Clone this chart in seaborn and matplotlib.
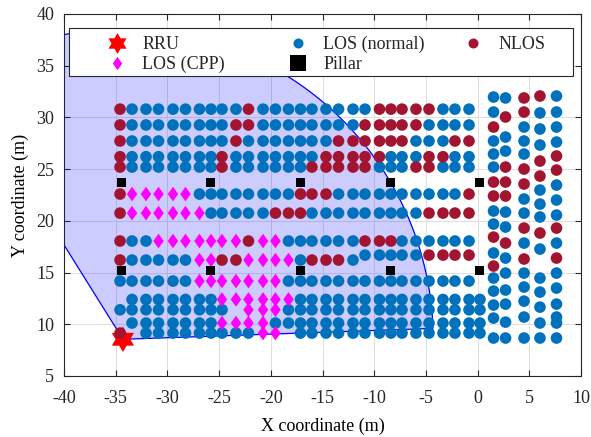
import numpy as np
import pandas as pd
import matplotlib
matplotlib.use("Agg")
import matplotlib.pyplot as plt
from matplotlib.legend import Legend
from matplotlib.lines import Line2D
from matplotlib.markers import MarkerStyle
from matplotlib.patches import Rectangle
from matplotlib.path import Path
import seaborn as sns

# ---------------------------------------------------------------------------
# Measurement data
# ---------------------------------------------------------------------------
# Main hall: x positions (m) of the measurement columns
grid_x = [-34.58, -33.42, -32.07, -30.86, -29.46, -28.25, -26.90, -25.78, -24.72,
          -23.37, -22.16, -20.75, -19.55, -18.29, -17.13, -16.02, -14.66, -13.45,
          -12.05, -10.89, -9.49, -8.38, -7.31, -5.96, -4.70, -3.35, -2.19, -0.83, 0.23]

# Row y positions (m) and link state per column
# L = LOS (normal), C = LOS (CPP), N = NLOS, . = no measurement
row_y = [30.80, 29.27, 27.72, 26.20, 25.20, 22.59, 20.75, 18.05, 16.21, 16.69,
         14.18, 12.40, 11.40, 10.12, 9.15]
row_state = [
    "NLLLLLLLLLNLLLLLLLLLNNNNNLLL.",
    "NLLLLLLLLNNLLLLLLLLNNNNNLLLL.",
    "NLLLLLLLLNLLLLLLLNNNNNNLLLNN.",
    "NLLLLLLLNLLLLLLLNNNNNLLLNNLL.",
    "NLLLLLLLNLLLLLLNNNNNLLLNNLLL.",
    "NCCCCCLLLLLLLLNNNLLLLLLLLLLN.",
    "NCCCCCCLLLLLNNNLLLLLLLLLNNNN.",
    "NLLCCCCCCCNCCLLLLLLNNNLLLLLL.",
    "NLLLLLCCNNCCCCLNNNL..........",
    "...................LLLLLNNNN.",
    "LLLLLLCCCCCCCLLLLLLLLLLLLLLL.",
    ".LLLLLLLCCCCCCLLLLLLLLLLLLLLL",
    "LLLLLLLLL.CCCLLLLLLLLLLLLLLLL",
    ".LLLLLLLCCCCLLLLLLLLLLLLLLLLL",
    "N.LLLLLLLLLCC.LLLLLLLLLLLLLLL",
]

# Corridor on the right: one measurement column per x position
corridor_x = [1.54, 2.70, 4.49, 6.03, 7.63]
corridor_y = [
    [31.97, 30.52, 29.07, 27.72, 26.46, 25.20, 23.75, 22.40, 20.95, 19.69, 18.43,
     16.89, 15.63, 14.47, 13.21, 11.86, 10.60, 8.67],
    [31.88, 30.04, 28.10, 26.75, 25.20, 23.75, 22.40, 20.85, 19.40, 17.85, 16.40,
     14.95, 13.31, 11.95, 10.21, 8.67],
    [31.88, 30.52, 29.07, 27.72, 26.46, 25.01, 23.56, 22.11, 20.75, 19.30, 17.85,
     16.31, 14.95, 13.60, 12.24, 10.70, 8.67],
    [32.07, 30.43, 28.88, 27.33, 25.78, 24.33, 22.98, 21.62, 20.37, 18.82, 17.27,
     14.47, 13.11, 11.66, 10.12, 8.67],
    [32.07, 30.52, 29.07, 27.62, 26.27, 24.91, 23.46, 22.01, 20.56, 19.30, 17.85,
     16.40, 14.95, 13.50, 11.95, 10.70, 10.12, 8.67],
]
corridor_state = [
    "LLNLLLNNLLNLNLLLLL",
    "LNLLNNNLLNLLLLLL",
    "NNLLLNNLLNLNLLLLL",
    "NLLLNNLLLNLLLLLL",
    "LLLLNNLLLNLNLLLLLL",
]

# Pillars and the radio remote unit
pillar_x = [-34.4, -25.8, -17.1, -8.4, 0.2, -34.4, -25.8, -17.1, -8.4, 0.2]
pillar_y = [23.7, 23.7, 23.7, 23.7, 23.7, 15.2, 15.2, 15.2, 15.2, 15.2]
rru_x = [-34.3]
rru_y = [8.55]

# LOS coverage sector of the RRU
coverage_radius = 30.0
coverage_angles = (2.0, 122.0)

# ---------------------------------------------------------------------------
# Assemble the table
# ---------------------------------------------------------------------------
records = []
for y, states in zip(row_y, row_state):
    for x, s in zip(grid_x, states):
        if s != ".":
            records.append((x, y, s))
for x, ys, states in zip(corridor_x, corridor_y, corridor_state):
    for y, s in zip(ys, states):
        records.append((x, y, s))
points = pd.DataFrame(records, columns=["x", "y", "state"])
pillars = pd.DataFrame({"x": pillar_x, "y": pillar_y})
rru = pd.DataFrame({"x": rru_x, "y": rru_y})

# ---------------------------------------------------------------------------
# Style
# ---------------------------------------------------------------------------
sns.set_theme(style="ticks")
plt.rcParams.update({
    "font.family": ["Liberation Serif", "DejaVu Serif"],
    "font.size": 13,
    "axes.unicode_minus": False,
})

C_LOS = "#0072BD"
C_NLOS = "#A2142F"
C_CPP = "#FF00FF"
C_RRU = "#FF0000"
C_AX = "#262626"

# marker shapes: slim diamond and six-pointed star
diamond = Path([(0, 1), (0.72, 0), (0, -1), (-0.72, 0), (0, 1)],
               [Path.MOVETO, Path.LINETO, Path.LINETO, Path.LINETO, Path.CLOSEPOLY])
star_verts = []
for k in range(6):
    a_out = np.radians(90 + 60 * k)
    a_in = np.radians(120 + 60 * k)
    star_verts.append((np.cos(a_out), np.sin(a_out)))
    star_verts.append((np.cos(a_in) / np.sqrt(3), np.sin(a_in) / np.sqrt(3)))
star_verts.append(star_verts[0])
hexagram = Path(star_verts, [Path.MOVETO] + [Path.LINETO] * 11 + [Path.CLOSEPOLY])

# ---------------------------------------------------------------------------
# Figure
# ---------------------------------------------------------------------------
fig = plt.figure(figsize=(5.91, 4.37), dpi=100)
ax = fig.add_axes([0.1083, 0.1396, 0.8748, 0.8284])

# coverage sector
theta = np.radians(np.linspace(coverage_angles[0], coverage_angles[1], 300))
sx = np.concatenate([[rru_x[0]], rru_x[0] + coverage_radius * np.cos(theta), [rru_x[0]]])
sy = np.concatenate([[rru_y[0]], rru_y[0] + coverage_radius * np.sin(theta), [rru_y[0]]])
ax.fill(sx, sy, facecolor=(0, 0, 1, 0.2), edgecolor="#0000FF", linewidth=0.9, zorder=1)

# RRU
sns.scatterplot(data=rru, x="x", y="y", ax=ax, marker=MarkerStyle(hexagram),
                s=340, color=C_RRU, edgecolor="none", linewidth=0, zorder=2.5,
                legend=False)

# measurement points
sns.scatterplot(data=points[points.state == "L"], x="x", y="y", ax=ax, marker="o",
                s=70, color=C_LOS, edgecolor="none", linewidth=0, zorder=3, legend=False)
sns.scatterplot(data=points[points.state == "N"], x="x", y="y", ax=ax, marker="o",
                s=70, color=C_NLOS, edgecolor="none", linewidth=0, zorder=3, legend=False)
sns.scatterplot(data=points[points.state == "C"], x="x", y="y", ax=ax,
                marker=MarkerStyle(diamond), s=110, color=C_CPP, edgecolor="none",
                linewidth=0, zorder=3, legend=False)

# pillars
sns.scatterplot(data=pillars, x="x", y="y", ax=ax, marker="s", s=42, color="black",
                edgecolor="none", linewidth=0, zorder=3, legend=False)

# axes
ax.set_xlim(-40, 10)
ax.set_ylim(5, 40)
ax.set_xticks(np.arange(-40, 11, 5))
ax.set_yticks(np.arange(5, 41, 5))
ax.grid(True, color="#dedede", linewidth=0.7)
ax.set_axisbelow(True)
ax.tick_params(direction="in", length=4, width=0.8, top=True, right=True,
               colors=C_AX, labelsize=13)
ax.tick_params(axis="x", pad=10)
ax.tick_params(axis="y", pad=7)
for sp in ax.spines.values():
    sp.set_color(C_AX)
    sp.set_linewidth(0.8)
ax.set_xlabel("X coordinate (m)", fontsize=13, color="black", labelpad=8)
ax.set_ylabel("Y coordinate (m)", fontsize=13, color="black", labelpad=5)

# legend box
ax.add_patch(Rectangle((0.0097, 0.8287), 0.9748, 0.1326, transform=ax.transAxes,
                       facecolor="white", edgecolor=C_AX, linewidth=0.8, zorder=4.5))

h_rru = Line2D([], [], linestyle="none", marker=MarkerStyle(hexagram), markersize=15,
               color=C_RRU, markeredgewidth=0)
h_cpp = Line2D([], [], linestyle="none", marker=MarkerStyle(diamond), markersize=9.5,
               color=C_CPP, markeredgewidth=0)
h_los = Line2D([], [], linestyle="none", marker="o", markersize=7.2,
               color=C_LOS, markeredgewidth=0)
h_pil = Line2D([], [], linestyle="none", marker="s", markersize=11,
               color="black", markeredgewidth=0)
h_nlos = Line2D([], [], linestyle="none", marker="o", markersize=7.2,
                color=C_NLOS, markeredgewidth=0)

columns = [
    ([h_rru, h_cpp], ["RRU", "LOS (CPP)"], 0.1736),
    ([h_los, h_pil], ["LOS (normal)", "Pillar"], 0.4799),
    ([h_nlos], ["NLOS"], 0.7760),
]
for handles, labels, xpos in columns:
    leg = Legend(ax, handles, labels, loc="upper left", bbox_to_anchor=(xpos, 0.918),
                 bbox_transform=fig.transFigure, frameon=False, borderpad=0,
                 borderaxespad=0, handlelength=1.6, handletextpad=0.6,
                 labelspacing=0.18, fontsize=13)
    leg.set_zorder(6)
    ax.add_artist(leg)

fig.savefig("out.png", dpi=100)
